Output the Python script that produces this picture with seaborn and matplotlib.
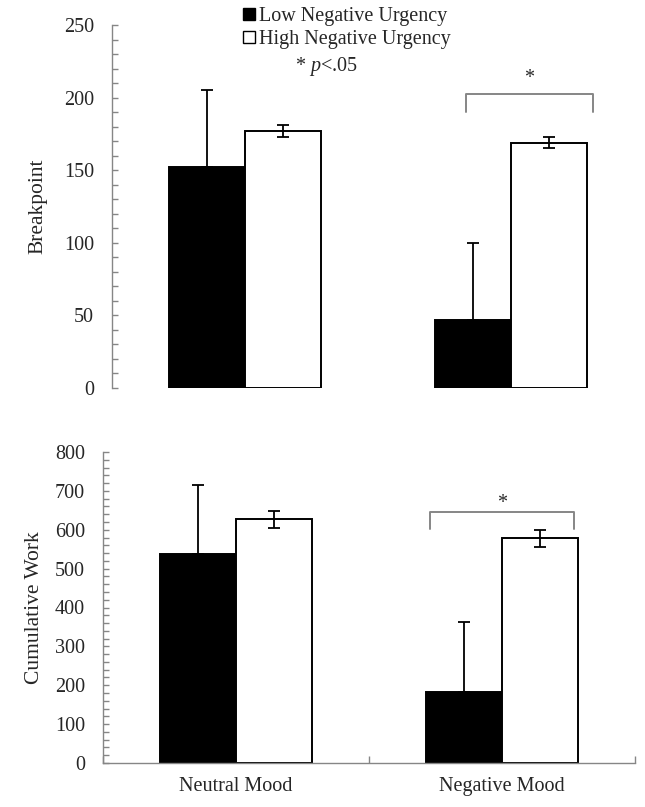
import numpy as np
import pandas as pd
import matplotlib
matplotlib.use('Agg')
import matplotlib.pyplot as plt
from matplotlib.ticker import MultipleLocator, FixedLocator
import seaborn as sns

moods = ['Neutral Mood', 'Negative Mood']
groups = ['Low Negative Urgency', 'High Negative Urgency']

# breakpoint means / errors (low, high) per mood
bp_low = [152, 47]
bp_high = [177, 169]
bp_low_err = [53, 53]
bp_high_err = [4, 4]

# cumulative work
cw_low = [537, 182]
cw_high = [627, 578]
cw_low_err = [178, 180]
cw_high_err = [22, 22]

sns.set_style('white')
plt.rcParams['font.family'] = ['Liberation Serif', 'DejaVu Serif']
plt.rcParams['mathtext.fontset'] = 'custom'
plt.rcParams['mathtext.it'] = 'Liberation Serif:italic'
plt.rcParams['mathtext.rm'] = 'Liberation Serif'
FS = 14.5
GREY = '#868686'

fig = plt.figure(figsize=(6.45, 8.07), dpi=100)
ax1 = fig.add_axes([112/645, 1-388/807, 532/645, 363/807])
ax2 = fig.add_axes([103/645, 1-763/807, 532/645, 311/807])


def make_df(low, high):
    return pd.DataFrame({
        'mood': moods * 2,
        'group': [groups[0]] * 2 + [groups[1]] * 2,
        'value': list(low) + list(high),
    })


def draw(ax, low, high, low_err, high_err):
    df = make_df(low, high)
    sns.barplot(data=df, x='mood', y='value', hue='group', order=moods,
                hue_order=groups, palette=['black', 'white'],
                edgecolor='black', linewidth=1.4, width=0.572, gap=0,
                errorbar=None, ax=ax)
    bars = [p for p in ax.patches if p.get_height() > 0]
    xs = [p.get_x() + p.get_width() / 2 for p in bars]
    # first two patches are low group, next two high group
    ax.errorbar(xs[:2], low, yerr=[[0, 0], low_err], fmt='none',
                ecolor='black', elinewidth=1.3, capsize=4.5, capthick=1.3)
    ax.errorbar(xs[2:], high, yerr=high_err, fmt='none',
                ecolor='black', elinewidth=1.3, capsize=4.5, capthick=1.3)
    ax.set_xlim(-0.5, 1.5)
    ax.set_xlabel('')
    for s in ['top', 'right']:
        ax.spines[s].set_visible(False)
    for s in ['left', 'bottom']:
        ax.spines[s].set_color(GREY)
        ax.spines[s].set_linewidth(1.0)
    ax.tick_params(axis='y', which='both', left=True, direction='in', length=4,
                   color=GREY, width=1, labelsize=FS, pad=13)
    if ax.get_legend():
        ax.get_legend().remove()


draw(ax1, bp_low, bp_high, bp_low_err, bp_high_err)
ax1.set_ylim(0, 250)
ax1.yaxis.set_major_locator(MultipleLocator(50))
ax1.yaxis.set_minor_locator(MultipleLocator(10))
ax1.spines['bottom'].set_visible(False)
ax1.set_xticks([])
ax1.set_ylabel('Breakpoint', fontsize=FS + 1, labelpad=12)

draw(ax2, cw_low, cw_high, cw_low_err, cw_high_err)
ax2.set_ylim(0, 800)
ax2.yaxis.set_major_locator(MultipleLocator(100))
ax2.yaxis.set_minor_locator(MultipleLocator(20))
ax2.set_xticks([0, 1])
ax2.set_xticklabels(moods)
ax2.xaxis.set_minor_locator(FixedLocator([-0.5, 0.5, 1.5]))
ax2.tick_params(axis='x', which='major', bottom=True, length=0, labelsize=FS, pad=10)
ax2.tick_params(axis='x', which='minor', bottom=True, direction='in', length=5,
                color=GREY, width=1)
ax2.set_ylabel('Cumulative Work', fontsize=FS + 1, labelpad=8)

# significance brackets
def bracket(ax, x0, x1, y, drop, star_x, star_y):
    ax.plot([x0, x0, x1, x1], [y - drop, y, y, y - drop], color=GREY,
            lw=1.4, solid_joinstyle='round', clip_on=False)
    ax.text(star_x, star_y, '*', ha='center', va='center', fontsize=FS)

bracket(ax1, 1 - 0.169, 1 + 0.308, 202.5, 12.5, 1 + 0.068, 213)
bracket(ax2, 1 - 0.27, 1 + 0.27, 645, 44, 1.0, 668)

# legend
handles = [plt.Rectangle((0, 0), 1, 1, facecolor='black', edgecolor='black', lw=1),
           plt.Rectangle((0, 0), 1, 1, facecolor='white', edgecolor='black', lw=1)]
fig.legend(handles, groups, loc='upper left',
           bbox_to_anchor=(243/645, 1 - 7/807), bbox_transform=fig.transFigure,
           frameon=False, fontsize=FS, handlelength=0.6, handleheight=0.6,
           handletextpad=0.2, labelspacing=0.2, borderpad=0, borderaxespad=0)
fig.text(295/645, 1 - 66/807, r'* $\it{p}$<.05', fontsize=FS, ha='left', va='center')

fig.savefig('out.png', dpi=100)
